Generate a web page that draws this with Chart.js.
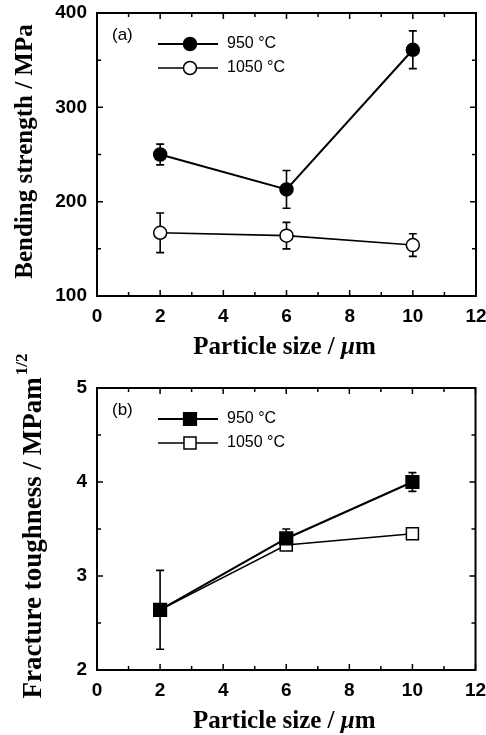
<!DOCTYPE html>
<html>
<head>
<meta charset="utf-8">
<script src="https://cdn.jsdelivr.net/npm/chart.js@4.4.0/dist/chart.umd.min.js"></script>
<style>
  html, body { margin: 0; padding: 0; background: #fff; }
  #wrap { position: relative; width: 486px; height: 735px; }
  canvas { position: absolute; left: 0; }
  #chartA { top: 0; }
  #chartB { top: 340px; }
</style>
</head>
<body>
<div id="wrap">
  <canvas id="chartA" width="486" height="370"></canvas>
  <canvas id="chartB" width="486" height="395"></canvas>
</div>
<script>
// particle size (um)
const particleSize = [2, 6, 10];
const seriesLabels = ['950 °C', '1050 °C'];

// (a) bending strength, MPa
const strength950 = [250, 213, 361];
const strength950Err = [11, 20, 20];
const strength1050 = [167, 164, 154];
const strength1050Err = [21, 14, 12];

// (b) fracture toughness, MPa m^1/2
const toughness950 = [2.64, 3.40, 4.00];
const toughness950Err = [0.42, 0.10, 0.10];
const toughness1050 = [2.64, 3.33, 3.45];
const toughness1050Err = [0, 0, 0];

const xTicks = { min: 0, max: 12, step: 2 };

const pts = vals => vals.map((v, i) => ({ x: particleSize[i], y: v }));

const SANS = "'Liberation Sans', Arial, sans-serif";
const SERIF = "'Liberation Serif', 'Times New Roman', serif";

function marker(ctx, style, filled, x, y, r) {
  ctx.save();
  ctx.fillStyle = filled ? '#000' : '#fff';
  ctx.strokeStyle = '#000';
  ctx.lineWidth = 1.5;
  ctx.beginPath();
  if (style === 'rect') {
    const h = r * Math.SQRT1_2;
    ctx.rect(x - h, y - h, 2 * h, 2 * h);
  } else {
    ctx.arc(x, y, r, 0, Math.PI * 2);
  }
  ctx.fill();
  ctx.stroke();
  ctx.restore();
}

const errorBars = {
  id: 'errorBars',
  beforeDatasetsDraw(chart) {
    const { ctx, scales: { x, y } } = chart;
    ctx.save();
    ctx.strokeStyle = '#000';
    ctx.lineWidth = 1.6;
    chart.data.datasets.forEach(ds => {
      if (!ds.errors) return;
      ds.data.forEach((p, i) => {
        const e = ds.errors[i];
        if (!e) return;
        const px = x.getPixelForValue(p.x);
        const top = y.getPixelForValue(p.y + e);
        const bot = y.getPixelForValue(p.y - e);
        ctx.beginPath();
        ctx.moveTo(px, top); ctx.lineTo(px, bot);
        ctx.moveTo(px - 4, top); ctx.lineTo(px + 4, top);
        ctx.moveTo(px - 4, bot); ctx.lineTo(px + 4, bot);
        ctx.stroke();
      });
    });
    ctx.restore();
  }
};

const panel = {
  id: 'panel',
  afterDraw(chart, args, opts) {
    const { ctx, chartArea: a, scales: { x, y } } = chart;
    ctx.save();
    ctx.strokeStyle = '#000';
    ctx.fillStyle = '#000';

    // frame
    ctx.lineWidth = 2;
    ctx.strokeRect(a.left, a.top, a.right - a.left, a.bottom - a.top);

    // inward ticks on all four sides
    ctx.lineWidth = 1.5;
    ctx.beginPath();
    for (let v = x.min; v <= x.max; v += 1) {
      const px = x.getPixelForValue(v);
      const len = v % xTicks.step === 0 ? 6 : 4;
      ctx.moveTo(px, a.bottom); ctx.lineTo(px, a.bottom - len);
      ctx.moveTo(px, a.top); ctx.lineTo(px, a.top + len);
    }
    const ys = opts.yStep;
    for (let v = y.min; v <= y.max + 1e-9; v += ys / 2) {
      const py = y.getPixelForValue(v);
      const major = Math.abs(Math.round((v - y.min) / ys) * ys - (v - y.min)) < 1e-6;
      const len = major ? 6 : 4;
      ctx.moveTo(a.left, py); ctx.lineTo(a.left + len, py);
      ctx.moveTo(a.right, py); ctx.lineTo(a.right - len, py);
    }
    ctx.stroke();

    // panel label
    ctx.font = '17px ' + SANS;
    ctx.textBaseline = 'middle';
    ctx.textAlign = 'left';
    ctx.fillText(opts.tag, a.left + 15, a.top + 22);

    // legend
    ctx.font = '16px ' + SANS;
    chart.data.datasets.forEach((ds, i) => {
      const ly = a.top + 31 + i * 24;
      ctx.lineWidth = ds.borderWidth;
      ctx.beginPath();
      ctx.moveTo(a.left + 61, ly);
      ctx.lineTo(a.left + 121, ly);
      ctx.stroke();
      marker(ctx, ds.pointStyle, ds.pointBackgroundColor === '#000', a.left + 93, ly, ds.pointRadius);
      ctx.fillStyle = '#000';
      ctx.fillText(ds.label, a.left + 130, ly);
    });

    // x axis title: Particle size / μm  (μ italic)
    ctx.textBaseline = 'alphabetic';
    const f1 = 'bold 25px ' + SERIF;
    const f2 = 'italic bold 25px ' + SERIF;
    const parts = [['Particle size / ', f1], ['μ', f2], ['m', f1]];
    let w = 0;
    parts.forEach(p => { ctx.font = p[1]; w += ctx.measureText(p[0]).width; });
    let tx = (a.left + a.right) / 2 - 2 - w / 2;
    const ty = a.bottom + 58;
    parts.forEach(p => {
      ctx.font = p[1];
      ctx.fillText(p[0], tx, ty);
      tx += ctx.measureText(p[0]).width;
    });

    // y axis title (rotated), optional superscript
    ctx.save();
    ctx.translate(opts.yTitleX, (a.top + a.bottom) / 2 - 3);
    ctx.rotate(-Math.PI / 2);
    const mainFont = 'bold ' + opts.yTitleSize + 'px ' + SERIF;
    const supFont = 'bold 17px ' + SERIF;
    ctx.font = mainFont;
    const wm = ctx.measureText(opts.yTitle).width;
    let wsup = 0;
    if (opts.ySup) { ctx.font = supFont; wsup = ctx.measureText(opts.ySup).width + 2; }
    const sx = -(wm + wsup) / 2;
    ctx.font = mainFont;
    ctx.fillText(opts.yTitle, sx, 0);
    if (opts.ySup) {
      ctx.font = supFont;
      ctx.fillText(opts.ySup, sx + wm + 2, -14);
    }
    ctx.restore();

    ctx.restore();
  }
};

function makeChart(id, cfg) {
  return new Chart(document.getElementById(id), {
    type: 'line',
    data: { datasets: cfg.datasets },
    plugins: [errorBars, panel],
    options: {
      responsive: false,
      animation: false,
      layout: { padding: { top: cfg.top, right: 10, bottom: 0, left: 0 } },
      plugins: {
        legend: { display: false },
        tooltip: { enabled: false },
        panel: {
          tag: cfg.tag, yStep: cfg.yStep, yTitle: cfg.yTitle, ySup: cfg.ySup,
          yTitleSize: cfg.yTitleSize, yTitleX: cfg.yTitleX
        }
      },
      scales: {
        x: {
          type: 'linear', min: xTicks.min, max: xTicks.max,
          ticks: {
            stepSize: xTicks.step, padding: 9, color: '#000',
            font: { family: SANS, weight: 'bold', size: 19 }
          },
          grid: { display: false, drawTicks: false },
          border: { display: false },
          afterFit(s) { s.height = cfg.xAxisHeight; s.paddingRight = 0; s.paddingLeft = 0; }
        },
        y: {
          type: 'linear', min: cfg.yMin, max: cfg.yMax,
          ticks: {
            stepSize: cfg.yStep, padding: 10, color: '#000',
            font: { family: SANS, weight: 'bold', size: 19 }
          },
          grid: { display: false, drawTicks: false },
          border: { display: false },
          afterFit(s) { s.width = 97; s.paddingTop = 0; s.paddingBottom = 0; }
        }
      }
    }
  });
}

function series(label, vals, errs, style, filled, r, lw) {
  return {
    label: label,
    data: pts(vals),
    errors: errs,
    borderColor: '#000',
    borderWidth: lw,
    tension: 0,
    pointStyle: style,
    pointRadius: r,
    pointHoverRadius: r,
    pointBackgroundColor: filled ? '#000' : '#fff',
    pointBorderColor: '#000',
    pointBorderWidth: 1.5
  };
}

makeChart('chartA', {
  tag: '(a)', top: 13, xAxisHeight: 74,
  yMin: 100, yMax: 400, yStep: 100,
  yTitle: 'Bending strength / MPa', yTitleSize: 25, yTitleX: 32,
  datasets: [
    series(seriesLabels[0], strength950, strength950Err, 'circle', true, 6.5, 2),
    series(seriesLabels[1], strength1050, strength1050Err, 'circle', false, 6.5, 1.6)
  ]
});

makeChart('chartB', {
  tag: '(b)', top: 48, xAxisHeight: 65,
  yMin: 2, yMax: 5, yStep: 1,
  yTitle: 'Fracture toughness / MPam', ySup: '1/2', yTitleSize: 27, yTitleX: 41,
  datasets: [
    series(seriesLabels[0], toughness950, toughness950Err, 'rect', true, 9, 2.2),
    series(seriesLabels[1], toughness1050, toughness1050Err, 'rect', false, 8.5, 1.5)
  ]
});
</script>
</body>
</html>
